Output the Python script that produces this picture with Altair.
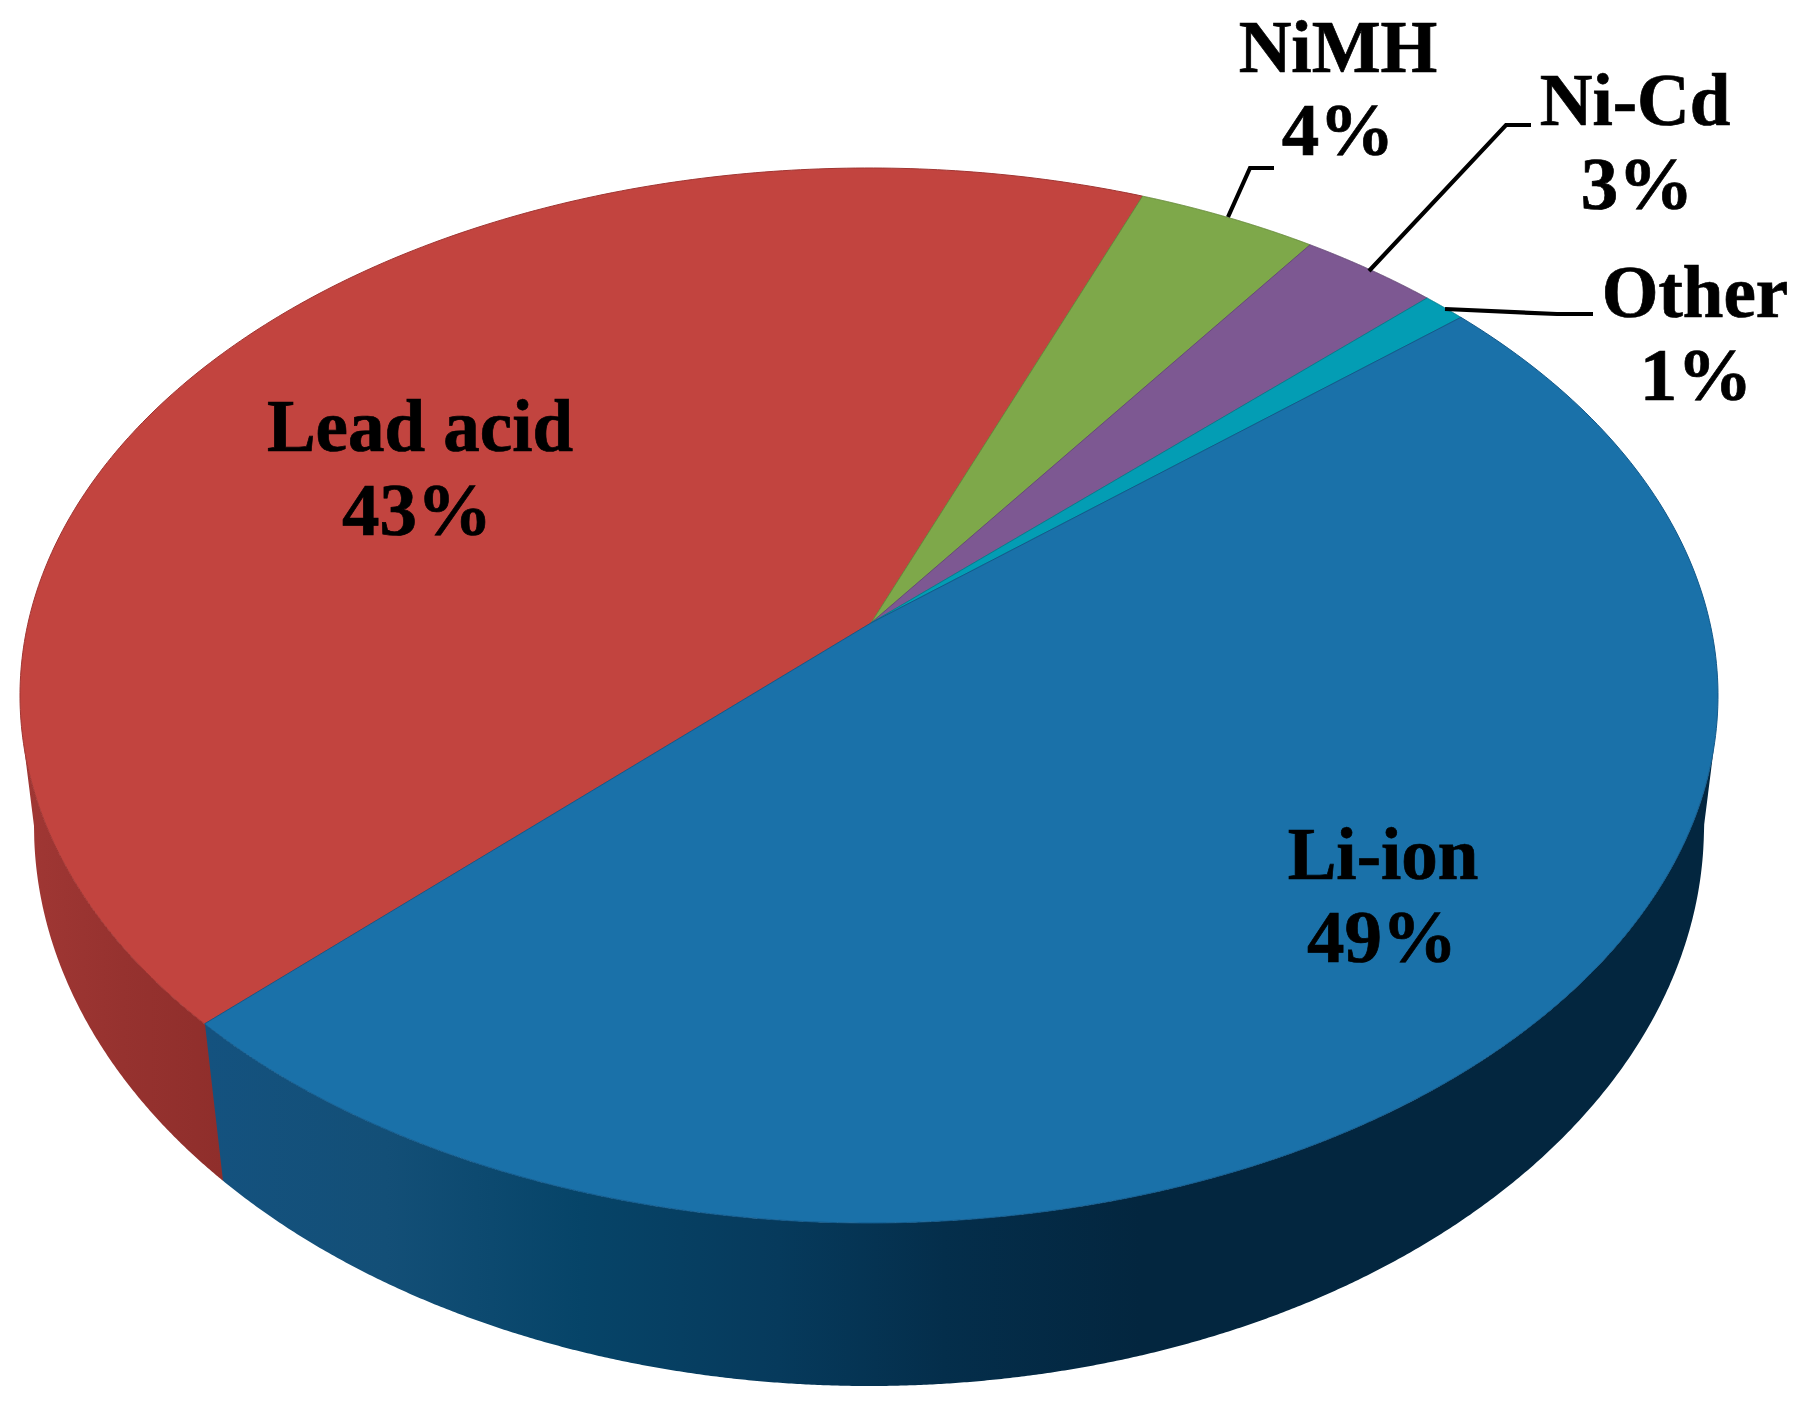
import altair as alt
import numpy as np
import pandas as pd

# Values
names = ["Li-ion", "Lead acid", "NiMH", "Ni-Cd", "Other"]
shares = [49, 43, 4, 3, 1]
top_colors = ["#1a71a9", "#c2443f", "#7ea84a", "#7d5892", "#039db4"]
edge_colors = ["#125a8c", "#a03532", "#688c3c", "#674a78", "#03808f"]
# rim angle (deg, ellipse parameter) at which each slice starts and ends
rim_start = [218.5, 71.2, 58.7, 48.9, 45.8]
rim_end = [405.8, 218.5, 71.2, 58.7, 48.9]

# picture geometry in image pixels (the pie is seen in perspective)
apex = (871, 623)
top_cx, top_cy, top_a, top_b = 869, 695.5, 849, 527.5
low_cx, low_cy, low_a, low_b = 869, 826, 835, 560
seam_top_x, seam_low_x = 205, 223
left_tangent_x, right_tangent_x = 24, 1714

label_names = ["Lead acid", "Li-ion", "NiMH", "Ni-Cd", "Other"]
label_pcts = ["43%", "49%", "4%", "3%", "1%"]
label_x = [420, 1383, 1338, 1635, 1695]
pct_x = [417, 1382, 1338, 1637, 1696]
label_y = [451, 879, 72, 125, 317]
pct_y = [535, 962, 155, 209, 400]

leader_x = [[1228, 1250, 1274], [1369, 1506, 1531], [1445, 1557, 1593]]
leader_y = [[217, 168, 168], [271, 125, 125], [309, 314, 314]]

W, H = 1799, 1390
X = alt.Scale(domain=[8, 8 + W], nice=False, zero=False)
Y = alt.Scale(domain=[8, 8 + H], nice=False, zero=False, reverse=True)
ex = alt.X("x:Q", scale=X, axis=None)
ey = alt.Y("y:Q", scale=Y, axis=None)
ey2 = alt.Y2("y2:Q")


def top_edge(x):
    d = np.clip((np.asarray(x, float) - top_cx) / top_a, -1, 1)
    return top_cy + top_b * np.sqrt(1 - d ** 2)


def low_edge(x):
    d = np.clip((np.asarray(x, float) - low_cx) / low_a, -1, 1)
    return low_cy + low_b * np.sqrt(1 - d ** 2)


def outer(x):
    x = np.asarray(x, float)
    y = low_edge(x)
    lx, rx = low_cx - low_a, low_cx + low_a
    y = np.where(x < lx, np.interp(x, [left_tangent_x, lx], [top_edge(left_tangent_x), low_cy]), y)
    y = np.where(x > rx, np.interp(x, [rx, right_tangent_x], [low_cy, top_edge(right_tangent_x)]), y)
    return y


def grad(stops):
    return alt.Gradient(
        gradient="linear", x1=0, x2=1, y1=0, y2=0,
        stops=[alt.GradientStop(color=c, offset=o) for o, c in stops],
    )


layers = []

# red wall
xr = np.concatenate([np.linspace(left_tangent_x, 60, 120), np.linspace(61, seam_low_x, 120)])
red_df = pd.DataFrame({"x": xr, "y": top_edge(xr), "y2": outer(xr)})
layers.append(
    alt.Chart(red_df).mark_area(
        color=grad([(0, "#a03734"), (0.5, "#96322f"), (1, "#8f2e2b")])
    ).encode(x=ex, y=ey, y2=ey2)
)

# blue wall
xb = np.concatenate([
    np.linspace(seam_top_x, seam_low_x, 12),
    np.linspace(seam_low_x + 2, 1660, 500),
    np.linspace(1661, right_tangent_x, 120),
])
seam = np.interp(xb, [seam_top_x, seam_low_x], [top_edge(seam_top_x), low_edge(seam_low_x)])
yb2 = np.where(xb <= seam_low_x, np.minimum(seam, outer(xb)), outer(xb))
blue_df = pd.DataFrame({"x": xb, "y": top_edge(xb), "y2": yb2})
layers.append(
    alt.Chart(blue_df).mark_area(
        color=grad([
            (0, "#14527f"), (0.12, "#134f77"), (0.25, "#064468"),
            (0.38, "#063a5c"), (0.49, "#042e4b"), (0.62, "#03263f"), (1, "#03263f"),
        ])
    ).encode(x=ex, y=ey, y2=ey2)
)

# top face slices, large slice last so its edge shows
for i in [1, 2, 3, 4, 0]:
    t = np.radians(np.linspace(rim_start[i], rim_end[i], 240))
    px = np.concatenate([[apex[0]], top_cx + top_a * np.cos(t), [apex[0]]])
    py = np.concatenate([[apex[1]], top_cy - top_b * np.sin(t), [apex[1]]])
    df = pd.DataFrame({"x": px, "y": py, "o": np.arange(len(px)), "name": names[i], "share": shares[i]})
    layers.append(
        alt.Chart(df).mark_line(
            fill=top_colors[i], stroke=edge_colors[i], strokeWidth=1, strokeJoin="round"
        ).encode(x=ex, y=ey, order="o:Q")
    )

# leader lines
for lx, ly in zip(leader_x, leader_y):
    df = pd.DataFrame({"x": lx, "y": ly, "o": range(len(lx))})
    layers.append(
        alt.Chart(df).mark_line(color="#000000", strokeWidth=4.2, strokeJoin="miter").encode(x=ex, y=ey, order="o:Q")
    )

# labels
for xs, ys, ts, size in [(label_x, label_y, label_names, 73), (pct_x, pct_y, label_pcts, 75)]:
    txt = pd.DataFrame({"x": xs, "y": ys, "t": ts})
    layers.append(
        alt.Chart(txt).mark_text(
            font="Liberation Serif", fontWeight="bold", fontSize=size,
            align="center", baseline="alphabetic", color="#000000",
            stroke="#000000", strokeWidth=0.7,
        ).encode(x=ex, y=ey, text="t:N")
    )

chart = (
    alt.layer(*layers)
    .properties(width=W, height=H, background="#ffffff", padding=0)
    .configure_view(stroke=None)
)
chart.save("out.html", embed_options={"renderer": "svg", "actions": False})
